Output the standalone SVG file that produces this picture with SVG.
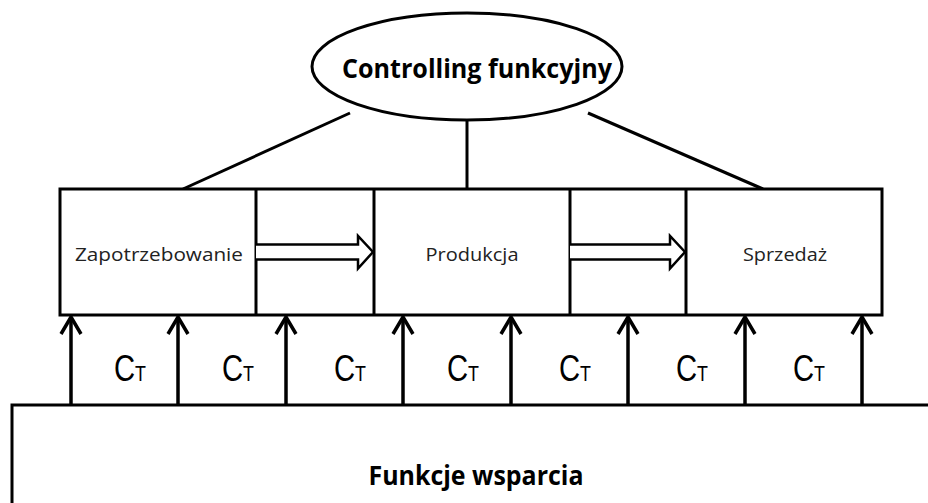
<svg xmlns="http://www.w3.org/2000/svg" width="928" height="503" viewBox="0 0 928 503">
<style>
.s{fill:none;stroke:#000;stroke-width:3}
.box{fill:#fff;stroke:#000;stroke-width:3}
.hollow{fill:#fff;stroke:#000;stroke-width:2.5;stroke-linejoin:miter}
.lbl{font-family:"Open Sans","Noto Sans",sans-serif;font-size:19px;fill:#222;text-anchor:middle}
.bold{font-family:"Open Sans","Noto Sans",sans-serif;font-weight:bold;fill:#000;text-anchor:middle}
.ct{font-family:"Liberation Sans",Arial,sans-serif;font-size:36px;fill:#000}
.sub{font-size:22px}
</style>
<defs>
<marker id="up" markerWidth="24" markerHeight="24" refX="19" refY="12" orient="auto" markerUnits="userSpaceOnUse" viewBox="0 0 24 24">
<path d="M2,2 L19,12 L2,22" fill="none" stroke="#000" stroke-width="3.5"/>
</marker>
</defs>
<rect width="928" height="503" fill="#fff"/>

<g id="connectors">
<line class="s" x1="350" y1="113" x2="183" y2="189"/>
<line class="s" x1="467" y1="120" x2="467" y2="189"/>
<line class="s" x1="588" y1="113" x2="763" y2="189"/>
<g stroke="#000" stroke-width="3.5" marker-end="url(#up)">
<line x1="71" y1="405" x2="71" y2="317"/>
<line x1="178" y1="405" x2="178" y2="317"/>
<line x1="286" y1="405" x2="286" y2="317"/>
<line x1="403" y1="405" x2="403" y2="317"/>
<line x1="511" y1="405" x2="511" y2="317"/>
<line x1="628" y1="405" x2="628" y2="317"/>
<line x1="745" y1="405" x2="745" y2="317"/>
<line x1="862" y1="405" x2="862" y2="317"/>
</g>
</g>

<g id="controlling">
<ellipse cx="467" cy="66.5" rx="155" ry="53.5" fill="#fff" stroke="#000" stroke-width="3"/>
<text class="bold" x="477" y="78" font-size="27" textLength="270" lengthAdjust="spacingAndGlyphs">Controlling funkcyjny</text>
</g>

<g id="process-row">
<rect class="box" x="60" y="189" width="822" height="126"/>
<line class="s" x1="256" y1="189" x2="256" y2="315"/>
<line class="s" x1="374" y1="189" x2="374" y2="315"/>
<line class="s" x1="570" y1="189" x2="570" y2="315"/>
<line class="s" x1="686" y1="189" x2="686" y2="315"/>
</g>

<g id="zapotrzebowanie">
<text class="lbl" x="159" y="261" textLength="168" lengthAdjust="spacingAndGlyphs">Zapotrzebowanie</text>
</g>
<g id="arrow1">
<path class="hollow" d="M256,244.5 H358 V236 L373,252 L358,268.5 V259.5 H256"/>
</g>
<g id="produkcja">
<text class="lbl" x="472" y="261" textLength="93" lengthAdjust="spacingAndGlyphs">Produkcja</text>
</g>
<g id="arrow2">
<path class="hollow" d="M570,244.5 H670 V236 L685,252 L670,268.5 V259.5 H570"/>
</g>
<g id="sprzedaz">
<text class="lbl" x="785" y="261" textLength="84" lengthAdjust="spacingAndGlyphs">Sprzedaż</text>
</g>

<g id="ct-labels">
<text class="ct" x="114" y="381" textLength="32" lengthAdjust="spacingAndGlyphs">C<tspan class="sub">T</tspan></text>
<text class="ct" x="222" y="381" textLength="32" lengthAdjust="spacingAndGlyphs">C<tspan class="sub">T</tspan></text>
<text class="ct" x="334" y="381" textLength="32" lengthAdjust="spacingAndGlyphs">C<tspan class="sub">T</tspan></text>
<text class="ct" x="447" y="381" textLength="32" lengthAdjust="spacingAndGlyphs">C<tspan class="sub">T</tspan></text>
<text class="ct" x="559" y="381" textLength="32" lengthAdjust="spacingAndGlyphs">C<tspan class="sub">T</tspan></text>
<text class="ct" x="676" y="381" textLength="32" lengthAdjust="spacingAndGlyphs">C<tspan class="sub">T</tspan></text>
<text class="ct" x="793" y="381" textLength="32" lengthAdjust="spacingAndGlyphs">C<tspan class="sub">T</tspan></text>
</g>

<g id="funkcje-wsparcia">
<rect class="box" x="12" y="405" width="930" height="120"/>
<text class="bold" x="476" y="485" font-size="26" textLength="215" lengthAdjust="spacingAndGlyphs">Funkcje wsparcia</text>
</g>
</svg>
